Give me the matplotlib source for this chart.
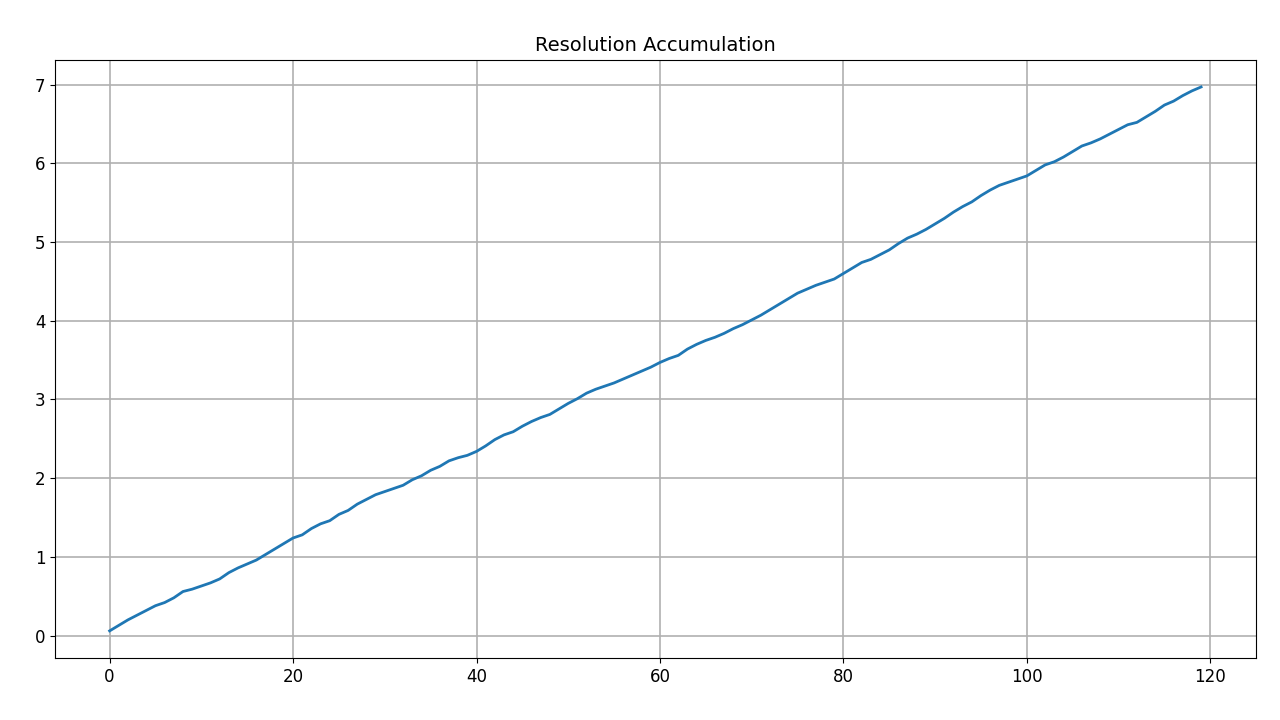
import numpy as np
import matplotlib
matplotlib.use("Agg")
import matplotlib.pyplot as plt

# values, one per step
steps = list(range(120))
resolved = [
    0.06, 0.13, 0.20, 0.26, 0.32, 0.38, 0.42, 0.48, 0.56, 0.59,
    0.63, 0.67, 0.72, 0.80, 0.86, 0.91, 0.96, 1.03, 1.10, 1.17,
    1.24, 1.28, 1.36, 1.42, 1.46, 1.54, 1.59, 1.67, 1.73, 1.79,
    1.83, 1.87, 1.91, 1.98, 2.03, 2.10, 2.15, 2.22, 2.26, 2.29,
    2.34, 2.41, 2.49, 2.55, 2.59, 2.66, 2.72, 2.77, 2.81, 2.88,
    2.95, 3.01, 3.08, 3.13, 3.17, 3.21, 3.26, 3.31, 3.36, 3.41,
    3.47, 3.52, 3.56, 3.64, 3.70, 3.75, 3.79, 3.84, 3.90, 3.95,
    4.01, 4.07, 4.14, 4.21, 4.28, 4.35, 4.40, 4.45, 4.49, 4.53,
    4.60, 4.67, 4.74, 4.78, 4.84, 4.90, 4.98, 5.05, 5.10, 5.16,
    5.23, 5.30, 5.38, 5.45, 5.51, 5.59, 5.66, 5.72, 5.76, 5.80,
    5.84, 5.91, 5.98, 6.02, 6.08, 6.15, 6.22, 6.26, 6.31, 6.37,
    6.43, 6.49, 6.52, 6.59, 6.66, 6.74, 6.79, 6.86, 6.92, 6.97,
]

fig, ax = plt.subplots(figsize=(12.8, 7.2), dpi=100)
fig.subplots_adjust(left=0.043, right=0.981, top=0.917, bottom=0.086)

ax.plot(steps, resolved, color="#1f77b4", linewidth=2)
ax.set_title("Resolution Accumulation", fontsize=14)
ax.tick_params(labelsize=12)
ax.grid(True, color="#b0b0b0", linewidth=1.2)
ax.set_axisbelow(True)

fig.savefig("out.png")
